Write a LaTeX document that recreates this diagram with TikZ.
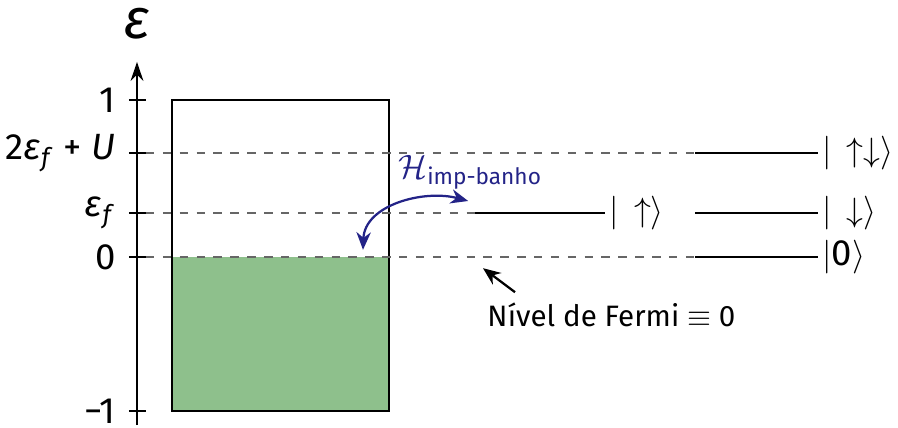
\documentclass[tikz,border=0pt]{standalone}
\usepackage{amsmath, amssymb}
\usepackage{fontspec}
\setmainfont{Fira Sans}
\usepackage{tikz}
\usetikzlibrary{positioning, arrows.meta, calc}
\definecolor{fermisea}{RGB}{142,192,140}
\definecolor{hybcol}{RGB}{35,35,135}
\tikzset{
  axisline/.style  = {-{Stealth[length=2.4mm, width=1.6mm]}, semithick},
  tickmark/.style  = {semithick},
  ticklab/.style   = {anchor=east, inner sep=0pt, xshift=-1.6mm},
  guide/.style     = {dashed, draw=gray!80!black, thin},
  level/.style     = {thick},
  ket/.style       = {anchor=west, inner sep=1.5pt, font=\fontsize{13}{15}\selectfont},
  hyb/.style       = {{Stealth[length=2.2mm, width=1.8mm]}-{Stealth[length=2.2mm, width=1.8mm]}, thick, draw=hybcol},
  pointer/.style   = {-{Stealth[length=2.2mm, width=1.8mm]}, thick}
}
\newcommand{\ef}{\textit{ε}\textsubscript{\textit{f}}}

\begin{document}
\begin{tikzpicture}[x=1cm, y=1cm, font=\fontsize{11.5}{13}\selectfont]
    \useasboundingbox (-1.7125,-2.125) rectangle (9.5125,3.2125);

    % --- Energy axis ----------------------------------------------------------
    \coordinate (ax-bot) at (0,-2.1);
    \coordinate (ax-top) at (0, 2.44);
    \draw[axisline] (ax-bot) -- (ax-top);
    \node[font=\fontsize{20}{22}\selectfont\itshape, inner sep=0pt] (eps) at (0,2.92) {ε};

    % --- Conduction band ------------------------------------------------------
    \fill[fermisea] (0.4375,-1.925) rectangle (3.15,0);
    \draw[semithick] (0.4375,-1.925) rectangle (3.15,1.9625);

    % --- Ticks and labels -----------------------------------------------------
    \foreach \nm/\yy/\lab in {one/1.9625/1, twoU/1.3/{2\ef\ + \textit{U}},
                              ef/0.55/\ef, zero/0/0, mone/-1.925/−1} {
      \coordinate (t-\nm) at (0.1125,\yy);
      \draw[tickmark] (-0.1,\yy) -- (t-\nm);
      \node[ticklab, font=\fontsize{13}{15}\selectfont] (l-\nm) at (-0.1,\yy) {\lab};
    }

    % --- Impurity levels ------------------------------------------------------
    \coordinate (ud-a) at (6.975,1.3);
    \coordinate (ud-b) at (8.51,1.3);
    \coordinate (up-a) at (4.225,0.55);
    \coordinate (up-b) at (5.85,0.55);
    \coordinate (dn-a) at (6.975,0.55);
    \coordinate (dn-b) at (8.51,0.55);
    \coordinate (e0-a) at (6.975,0);
    \coordinate (e0-b) at (8.51,0);

    \node[ket] (k-ud) at (ud-b) {$|\,\uparrow\downarrow\rangle$};
    \node[ket] (k-up) at (up-b) {$|\,\uparrow\rangle$};
    \node[ket] (k-dn) at (dn-b) {$|\,\downarrow\rangle$};
    \node[ket] (k-e0) at (e0-b) {$|$0$\rangle$};

    \draw[guide] (t-twoU) -- (ud-a);
    \draw[guide] (t-ef)   -- (up-a);
    \draw[guide] (t-zero) -- (e0-a);

    \draw[level] (ud-a) -- (ud-b);
    \draw[level] (up-a) -- (up-b);
    \draw[level] (dn-a) -- (dn-b);
    \draw[level] (e0-a) -- (e0-b);

    % --- Hybridisation --------------------------------------------------------
    \coordinate (hyb-a) at (2.825,0.09);
    \coordinate (hyb-b) at (4.14,0.70);
    \draw[hyb] (hyb-a) to[out=88, in=165] (hyb-b);
    \node[text=hybcol] (hname) at (4.17,1.06) {$\mathcal{H}_{\text{imp-banho}}$};

    % --- Fermi level ----------------------------------------------------------
    \node[font=\fontsize{10.5}{12}\selectfont] (fermi) at (5.93,-0.72) {Nível de Fermi $\equiv$ 0};
    \coordinate (f-tail) at (4.725,-0.44);
    \coordinate (f-tip)  at (4.325,-0.14);
    \draw[pointer] (f-tail) -- (f-tip);

\end{tikzpicture}
\end{document}
